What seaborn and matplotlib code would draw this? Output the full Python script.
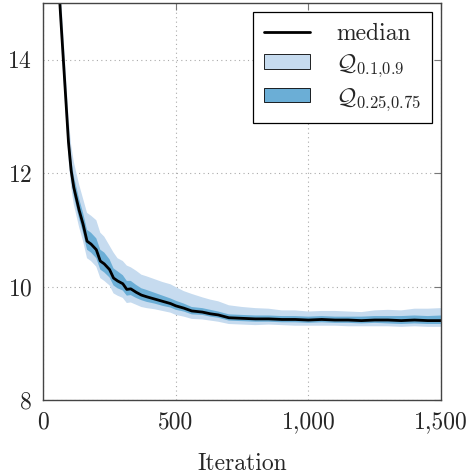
import matplotlib
matplotlib.use("Agg")
import matplotlib.pyplot as plt
import matplotlib.ticker as mticker
from matplotlib.patches import Patch
from matplotlib.lines import Line2D
import seaborn as sns
import pandas as pd

# iteration grid
iters = [0, 20, 40, 55, 65, 75, 85, 95, 105, 115, 125, 135, 150, 165, 180, 200,
         215, 230, 250, 265, 280, 300, 315, 330, 350, 370, 390, 420, 450, 480,
         500, 530, 560, 600, 630, 660, 700, 750, 800, 850, 900, 950, 1000, 1050,
         1100, 1150, 1200, 1250, 1300, 1350, 1400, 1450, 1500]

median = [30.0, 22.0, 17.5, 15.6, 14.8, 14.05, 13.3, 12.55, 12.05, 11.75, 11.55,
          11.35, 11.1, 10.8, 10.75, 10.65, 10.45, 10.4, 10.3, 10.15, 10.1, 10.05,
          9.95, 9.96, 9.9, 9.85, 9.82, 9.78, 9.74, 9.7, 9.66, 9.62, 9.57, 9.55,
          9.52, 9.5, 9.45, 9.44, 9.43, 9.43, 9.42, 9.42, 9.41, 9.42, 9.41, 9.41,
          9.40, 9.41, 9.41, 9.40, 9.41, 9.40, 9.40]

q90 = [30.5, 22.5, 18.0, 16.05, 15.25, 14.5, 13.75, 13.0, 12.5, 12.2, 12.0,
       11.8, 11.55, 11.3, 11.25, 11.17, 10.95, 10.88, 10.72, 10.6, 10.5, 10.45,
       10.37, 10.34, 10.28, 10.21, 10.18, 10.13, 10.08, 10.04, 9.99, 9.92, 9.87,
       9.81, 9.77, 9.74, 9.67, 9.64, 9.62, 9.61, 9.58, 9.58, 9.56, 9.57, 9.57,
       9.56, 9.55, 9.58, 9.59, 9.58, 9.61, 9.61, 9.62]

q75 = [30.2, 22.2, 17.7, 15.8, 15.0, 14.25, 13.5, 12.75, 12.25, 11.95, 11.75,
       11.55, 11.3, 11.0, 10.95, 10.85, 10.65, 10.6, 10.48, 10.32, 10.27, 10.2,
       10.1, 10.1, 10.03, 9.97, 9.94, 9.89, 9.84, 9.79, 9.75, 9.7, 9.64, 9.62,
       9.59, 9.56, 9.51, 9.5, 9.49, 9.49, 9.48, 9.48, 9.47, 9.48, 9.47, 9.47,
       9.47, 9.48, 9.48, 9.48, 9.49, 9.48, 9.49]

q25 = [29.85, 21.85, 17.35, 15.45, 14.65, 13.9, 13.15, 12.4, 11.9, 11.6, 11.4,
       11.2, 10.95, 10.65, 10.6, 10.5, 10.3, 10.25, 10.16, 10.02, 9.97, 9.93,
       9.84, 9.85, 9.8, 9.76, 9.73, 9.7, 9.66, 9.63, 9.59, 9.56, 9.51, 9.5,
       9.47, 9.45, 9.4, 9.39, 9.38, 9.38, 9.37, 9.37, 9.36, 9.37, 9.36, 9.36,
       9.35, 9.36, 9.35, 9.34, 9.35, 9.34, 9.34]

q10 = [29.7, 21.7, 17.2, 15.3, 14.5, 13.75, 13.0, 12.25, 11.75, 11.45, 11.25,
       11.05, 10.8, 10.5, 10.45, 10.35, 10.15, 10.1, 10.02, 9.88, 9.84, 9.8,
       9.71, 9.72, 9.68, 9.64, 9.62, 9.6, 9.57, 9.54, 9.5, 9.47, 9.43, 9.42,
       9.4, 9.38, 9.34, 9.33, 9.32, 9.33, 9.32, 9.31, 9.31, 9.31, 9.31, 9.3,
       9.3, 9.3, 9.3, 9.29, 9.3, 9.29, 9.29]

legend_labels = ["median", r"$\mathcal{Q}_{0.1{,}0.9}$", r"$\mathcal{Q}_{0.25{,}0.75}$"]

light_blue = "#c6dbef"
mid_blue = "#6baed6"


def draw_figure():
    sns.set_style("white")
    plt.rcParams["font.family"] = ["cmr10", "DejaVu Serif"]
    plt.rcParams["mathtext.fontset"] = "cm"
    plt.rcParams["axes.unicode_minus"] = False
    plt.rcParams["axes.formatter.use_mathtext"] = True

    df = pd.DataFrame({"Iteration": iters, "median": median,
                       "q10": q10, "q25": q25, "q75": q75, "q90": q90})

    fig = plt.figure(figsize=(4.73, 4.75), dpi=100)
    ax = fig.add_axes([0.0915, 0.1579, 0.8408, 0.8358])

    ax.fill_between(df["Iteration"], df["q10"], df["q90"], color=light_blue, lw=0)
    ax.fill_between(df["Iteration"], df["q25"], df["q75"], color=mid_blue, lw=0)
    sns.lineplot(data=df, x="Iteration", y="median", ax=ax, color="black",
                 lw=2.0, legend=False)

    ax.set_xlim(0, 1500)
    ax.set_ylim(8, 15)
    ax.set_xticks([0, 500, 1000, 1500])
    ax.set_yticks([8, 10, 12, 14])
    ax.xaxis.set_major_formatter(mticker.FuncFormatter(lambda v, p: f"{v:,.0f}"))
    ax.set_ylabel("")
    ax.set_xlabel("Iteration", fontsize=17, labelpad=14)

    ax.grid(True, linestyle=(0, (1, 3)), color="#aaaaaa", lw=0.8)
    ax.tick_params(direction="in", length=5, width=0.8, color="#777777",
                   top=True, right=True, labelsize=17)
    ax.tick_params(axis="x", pad=8)
    ax.tick_params(axis="y", pad=8)
    for s in ax.spines.values():
        s.set_color("#444444")
        s.set_linewidth(1.0)

    handles = [Line2D([], [], color="black", lw=2.0),
               Patch(facecolor=light_blue, edgecolor="black", lw=0.6),
               Patch(facecolor=mid_blue, edgecolor="black", lw=0.6)]
    leg = ax.legend(handles, legend_labels, loc="upper right", fontsize=17,
                    fancybox=False, framealpha=1, edgecolor="black",
                    borderaxespad=0.4, handlelength=1.95, handleheight=0.55,
                    handletextpad=1.1, labelspacing=0.3, borderpad=0.45)
    leg.get_frame().set_linewidth(0.9)

    fig.savefig("out.png", dpi=100)
    plt.close(fig)


if __name__ == "__main__":
    draw_figure()
